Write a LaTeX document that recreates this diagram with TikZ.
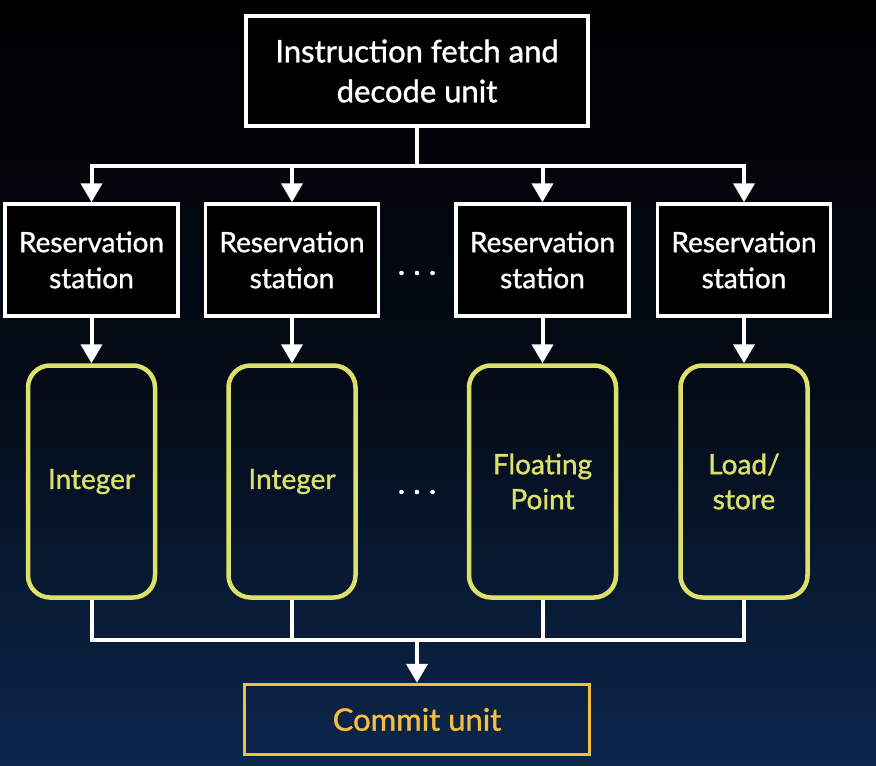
\documentclass[tikz,border=0pt]{standalone}
\usepackage{fontspec}
\setmainfont{Lato}[BoldFont=Lato,BoldFeatures={FakeBold=1.2}]
\usetikzlibrary{arrows.meta}
\definecolor{unitc}{RGB}{221,224,106}
\definecolor{commitc}{RGB}{245,190,60}
\definecolor{bgbot}{RGB}{12,38,76}
\begin{document}
\begin{tikzpicture}[x=1pt,y=-1pt,
  wbox/.style={draw=white,line width=3.5pt,fill=black,text=white,inner sep=0pt,align=center,font=\fontsize{31}{40}\selectfont\bfseries},
  unit/.style={draw=unitc,line width=4.5pt,rounded corners=22pt,text=unitc,inner sep=0pt,align=center,minimum width=127pt,minimum height=232pt,font=\fontsize{28}{35}\selectfont\bfseries},
  conn/.style={draw=white,line width=4pt},
  arr/.style={conn,-{Triangle[width=21pt,length=19pt]}},
  dotsn/.style={text=white,font=\fontsize{32}{32}\selectfont\bfseries}]
\shade[top color=black,bottom color=bgbot,middle color=black!70!bgbot] (0,0) rectangle (876,766);
\useasboundingbox (0,0) rectangle (876,766);
\node[wbox,minimum width=342pt,minimum height=110pt] (top) at (417,71) {Instruction fetch and\\decode unit};
\foreach \n/\x in {1/91.5,2/292,3/542.5,4/744}{
  \node[wbox,minimum width=173pt,minimum height=112pt,font=\fontsize{28}{36}\selectfont\bfseries] (rs\n) at (\x,260) {Reservation\\station};
}
\node[unit] (u1) at (91.5,481.5) {Integer};
\node[unit] (u2) at (292,481.5) {Integer};
\node[unit,minimum width=147pt] (u3) at (542.5,481.5) {Floating\\Point};
\node[unit] (u4) at (744,481.5) {Load/\\store};
\node[dotsn] (d1) at (417,273) {.\hspace{8pt}.\hspace{8pt}.};
\node[dotsn] (d2) at (417,492) {.\hspace{8pt}.\hspace{8pt}.};
\node[draw=commitc,line width=3.5pt,fill=none,text=commitc,inner sep=0pt,minimum width=345pt,minimum height=70pt,font=\fontsize{31}{30}\selectfont\bfseries] (commit) at (417,719.5) {Commit unit};
\coordinate (bt) at (417,166);
\coordinate (bb) at (417,640);
\draw[conn] (top.south) -- (bt);
\foreach \n in {1,2,3,4}{
  \draw[arr] (bt) -| (rs\n.north);
  \draw[arr] (rs\n.south) -- (u\n.north);
  \draw[conn] (u\n.south) |- (bb);
}
\draw[arr] (bb) -- (commit.north);
\end{tikzpicture}
\end{document}
